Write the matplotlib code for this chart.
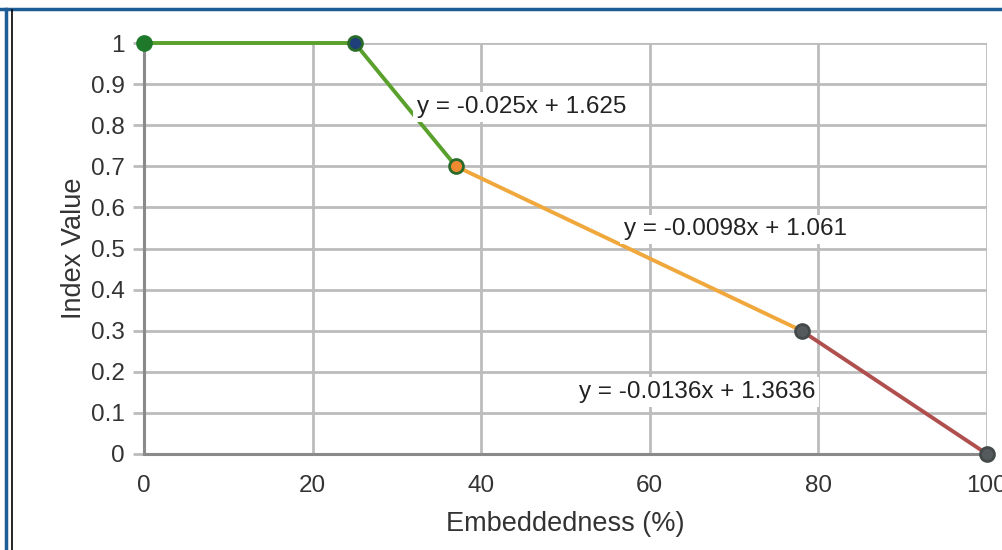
import matplotlib.pyplot as plt
from matplotlib.lines import Line2D

plt.rcParams['font.family'] = ['Liberation Sans', 'DejaVu Sans']

# data points (embeddedness %, index value)
x_pts = [0, 25, 37, 78, 100]
y_pts = [1.0, 1.0, 0.7, 0.3, 0.0]

# segments: (start index, end index, colour)
segments = [(0, 2, '#5aa02c'), (2, 3, '#f0a83c'), (3, 4, '#b0504e')]
marker_face = ['#1e7a2a', '#1f3f7a', '#f08a30', '#555b5c', '#555b5c']
marker_edge = ['#1e7a2a', '#2a6a2a', '#2a6a2a', '#444a4a', '#444a4a']

equations = ['y = -0.025x + 1.625', 'y = -0.0098x + 1.061', 'y = -0.0136x + 1.3636']
eq_pos = [(32.4, 0.844), (56.9, 0.547), (51.6, 0.151)]

x_ticks = [0, 20, 40, 60, 80, 100]
y_ticks = [0, 0.1, 0.2, 0.3, 0.4, 0.5, 0.6, 0.7, 0.8, 0.9, 1]
y_labels = ['0', '0.1', '0.2', '0.3', '0.4', '0.5', '0.6', '0.7', '0.8', '0.9', '1']

W, H = 1003, 550
fig = plt.figure(figsize=(W / 100, H / 100), dpi=100)
ax = fig.add_axes([144 / W, 1 - 454 / H, (987 - 144) / W, (454 - 43) / H])

for i0, i1, col in segments:
    ax.plot(x_pts[i0:i1 + 1], y_pts[i0:i1 + 1], color=col, lw=2.8,
            solid_capstyle='round', zorder=3, clip_on=False)

for xi, yi, fc, ec in zip(x_pts, y_pts, marker_face, marker_edge):
    ax.plot([xi], [yi], 'o', ms=10, mfc=fc, mec=ec, mew=2, zorder=4, clip_on=False)

for txt, (tx, ty) in zip(equations, eq_pos):
    ax.text(tx, ty, txt, fontsize=17.5, color='#222222', ha='left', va='center', zorder=5,
            bbox=dict(boxstyle='square,pad=0.15', fc='white', ec='none'))

ax.set_xlim(0, 100)
ax.set_ylim(0, 1)
ax.set_xticks(x_ticks)
ax.set_yticks(y_ticks)
ax.set_yticklabels(y_labels)
ax.grid(True, color='#bcbcbc', lw=2, zorder=0)
ax.set_axisbelow(True)
for side in ['top', 'right']:
    ax.spines[side].set_visible(False)
for side in ['left', 'bottom']:
    ax.spines[side].set_color('#8a8a8a')
    ax.spines[side].set_linewidth(2.2)
ax.tick_params(axis='y', length=8, width=2, color='#bcbcbc', labelsize=17.5,
               labelcolor='#333333', pad=6)
ax.tick_params(axis='x', length=0, labelsize=17.5, labelcolor='#333333', pad=15)

ax.set_xlabel('Embeddedness (%)', fontsize=19.5, color='#333333', labelpad=10)
ax.set_ylabel('Index Value', fontsize=19.5, color='#333333', labelpad=3)

# frame: blue line on top and left, thin black line inside on the left
fig.lines.append(Line2D([0, 1], [1 - 8.5 / H, 1 - 8.5 / H], transform=fig.transFigure,
                        color='#1d5c94', lw=2.5))
fig.lines.append(Line2D([6 / W, 6 / W], [0, 1 - 8.5 / H], transform=fig.transFigure,
                        color='#1d5c94', lw=2.5))
fig.lines.append(Line2D([12 / W, 12 / W], [0, 1 - 10 / H], transform=fig.transFigure,
                        color='black', lw=1.2))

fig.savefig('out.png', dpi=100)
